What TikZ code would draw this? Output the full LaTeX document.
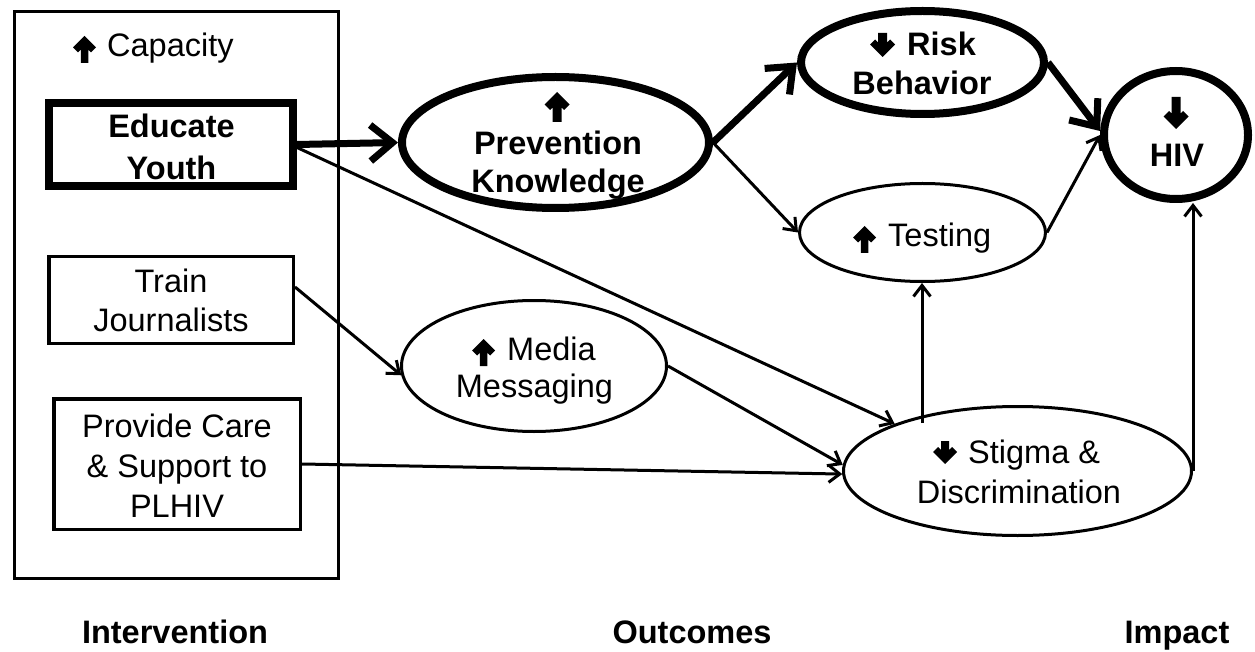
\documentclass[tikz,border=0pt]{standalone}
\usepackage{fontspec}
\setmainfont{Liberation Sans}
\usetikzlibrary{arrows.meta,shapes.geometric}
\newcommand{\arrpath}[4]{({-#3/2},0) -- ({#3/2},0) -- ({#3/2},{#2-#3/2-2*#4}) -- ({#1/2-#4},{#2-#1/2-#4}) -- ({#1/2},{#2-#1/2}) -- (0,#2) -- ({-#1/2},{#2-#1/2}) -- ({-#1/2+#4},{#2-#1/2-#4}) -- ({-#3/2},{#2-#3/2-2*#4}) -- cycle}
\tikzset{pics/glyph/.style n args={5}{code={\fill[yscale=#5] \arrpath{#1}{#2}{#3}{#4};}}}
\begin{document}
\begin{tikzpicture}[x=1pt,y=-1pt,
  txt/.style={inner sep=0pt, font=\fontsize{32.5}{41}\selectfont, anchor=base},
  btxt/.style={inner sep=0pt, font=\fontsize{32.5}{41}\selectfont\bfseries, anchor=base},
  box/.style={draw, rectangle, inner sep=0pt, line width=3.5pt},
  ell/.style={draw, ellipse, inner sep=0pt, line width=3pt},
  lightarrow/.style={line width=3pt, -{Straight Barb[length=11pt,width=17pt]}},
  heavyarrow/.style={line width=7pt, -{Straight Barb[length=22pt,width=36pt]}}]
\useasboundingbox (0,0) rectangle (1255,652);
% intervention boxes
\node[draw, line width=3pt, inner sep=0pt, minimum width=324pt, minimum height=567pt] (outer) at (176.5,295) {};
\node[box, line width=8pt, minimum width=244pt, minimum height=83pt] (edu) at (171,144.5) {};
\node[box, minimum width=244.5pt, minimum height=86.5pt] (train) at (171,300) {};
\node[box, minimum width=246.5pt, minimum height=130.5pt] (prov) at (177,464) {};
% outcome ellipses
\node[ell, line width=8pt, minimum width=307pt, minimum height=131pt] (prev) at (555.5,142.5) {};
\node[ell, line width=8pt, minimum width=243pt, minimum height=103pt] (risk) at (922.5,62.5) {};
\node[ell, line width=8pt, minimum width=144pt, minimum height=128pt] (hiv) at (1176,135) {};
\node[ell, minimum width=246pt, minimum height=98pt] (test) at (922.5,232.5) {};
\node[ell, minimum width=265pt, minimum height=131pt] (media) at (534,366) {};
\node[ell, minimum width=348pt, minimum height=129pt] (stig) at (1017.5,471) {};
% arrow glyphs
\pic (gcap) at (84.5,63) {glyph={23}{27}{7.5}{5}{-1}};
\pic (gprev) at (557,122) {glyph={25}{30}{9}{5.5}{-1}};
\pic (grisk) at (882.5,33) {glyph={25}{24}{9}{5}{1}};
\pic (ghiv) at (1176,97) {glyph={25}{32}{9}{5.5}{1}};
\pic (gtest) at (864.5,253) {glyph={23}{27}{7.5}{5}{-1}};
\pic (gmedia) at (483.5,366) {glyph={23}{27}{7.5}{5}{-1}};
\pic (gstig) at (945,441) {glyph={24}{23}{8}{5}{1}};
% texts
\node[txt, anchor=base west] (cap) at (107,57) {Capacity};
\node[btxt] (edu1) at (171.5,138) {Educate};
\node[btxt] (edu2) at (171.5,180) {Youth};
\node[txt] (tr1) at (171,292.5) {Train};
\node[txt] (tr2) at (171,331.5) {Journalists};
\node[txt] (pr1) at (177,437) {Provide Care};
\node[txt] (pr2) at (177,477) {\& Support to};
\node[txt] (pr3) at (177,517) {PLHIV};
\node[btxt] (pk1) at (558,155) {Prevention};
\node[btxt] (pk2) at (558,193) {Knowledge};
\node[btxt, anchor=base west] (rb1) at (907,56) {Risk};
\node[btxt] (rb2) at (922,95) {Behavior};
\node[btxt] (hv1) at (1177,167) {HIV};
\node[txt, anchor=base west] (ts1) at (888,247) {Testing};
\node[txt, anchor=base west] (mm1) at (507,360) {Media};
\node[txt] (mm2) at (534.5,397) {Messaging};
\node[txt, anchor=base west] (sd1) at (968,463) {Stigma \&};
\node[txt] (sd2) at (1019,503) {Discrimination};
\node[btxt] (lab1) at (175,643) {Intervention};
\node[btxt] (lab2) at (692,643) {Outcomes};
\node[btxt] (lab3) at (1177,643) {Impact};
% connectors
\draw[heavyarrow] (edu.east) -- (prev.west);
\draw[lightarrow] ([yshift=-3pt]edu.east) -- (stig.159);
\draw[lightarrow] ([yshift=13pt]train.east) -- (media.184);
\draw[lightarrow] (prov.east) -- (stig.181);
\draw[lightarrow] (media.east) -- (stig.178);
\draw[heavyarrow] (prev.east) -- (risk.west);
\draw[lightarrow] (prev.east) -- (test.west);
\draw[heavyarrow] (risk.east) -- (hiv.177);
\draw[lightarrow] (test.east) -- (hiv.west);
\coordinate (st1) at (922,423);
\draw[lightarrow] (st1) -- (st1 |- test.south);
\draw[lightarrow] (stig.east) -- (stig.east |- hiv.south);
\end{tikzpicture}
\end{document}
